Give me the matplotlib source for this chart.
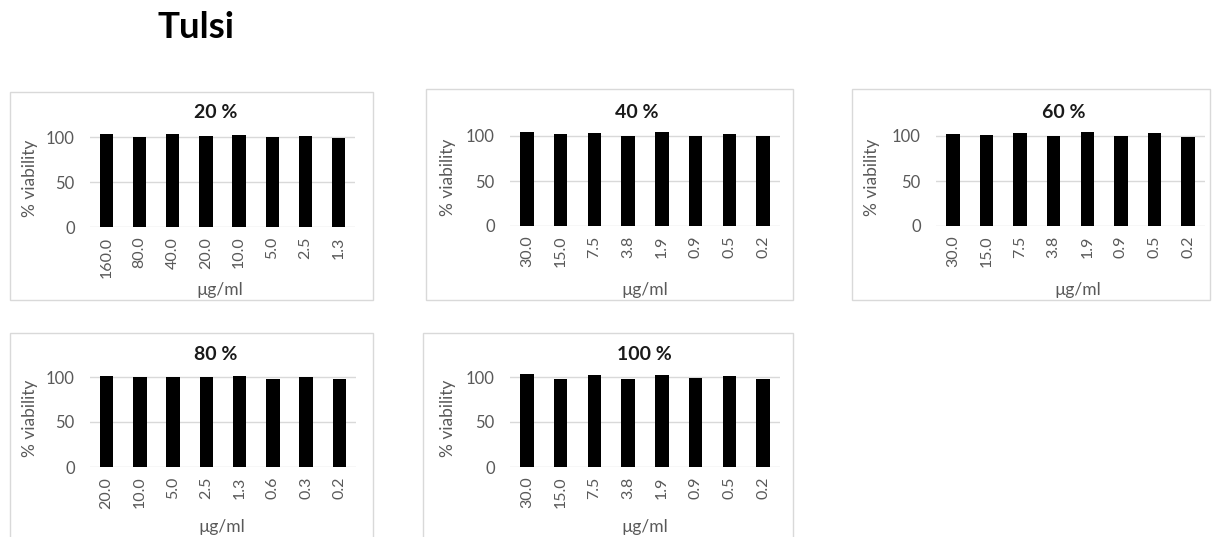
import matplotlib
matplotlib.use("Agg")
import matplotlib.pyplot as plt
from matplotlib.patches import Rectangle

plt.rcParams["font.family"] = ["Lato", "DejaVu Sans"]

W, H = 1212, 537
DPI = 100

# Concentrations (µg/ml) for each extract dilution
conc_20 = ["160.0", "80.0", "40.0", "20.0", "10.0", "5.0", "2.5", "1.3"]
conc_40 = ["30.0", "15.0", "7.5", "3.8", "1.9", "0.9", "0.5", "0.2"]
conc_60 = ["30.0", "15.0", "7.5", "3.8", "1.9", "0.9", "0.5", "0.2"]
conc_80 = ["20.0", "10.0", "5.0", "2.5", "1.3", "0.6", "0.3", "0.2"]
conc_100 = ["30.0", "15.0", "7.5", "3.8", "1.9", "0.9", "0.5", "0.2"]

# Cell viability (%)
via_20 = [103.7, 100.0, 103.7, 101.5, 102.6, 100.4, 101.5, 99.3]
via_40 = [104.4, 102.6, 103.7, 100.4, 104.4, 99.6, 102.2, 100.4]
via_60 = [102.2, 101.1, 103.0, 100.0, 104.4, 100.0, 103.0, 98.9]
via_80 = [101.5, 99.6, 100.4, 99.6, 101.1, 97.4, 99.6, 98.1]
via_100 = [103.4, 97.4, 101.9, 98.1, 101.9, 99.3, 101.1, 98.1]

titles = ["20 %", "40 %", "60 %", "80 %", "100 %"]
yticks = [0, 50, 100]

GRAY = "#595959"
GRID = "#d9d9d9"
FRAME = "#d9d9d9"

fig = plt.figure(figsize=(W / DPI, H / DPI), dpi=DPI)
fig.patch.set_facecolor("white")


def fx(x):
    return x / W


def fy(y):
    return 1 - y / H


# layout in pixels: plot x0, x1, zero line y, frame box, title x/y, ylabel x, xlabel x/y
layout = [
    dict(x0=90, x1=355, yz=227, box=(10, 92, 373, 300), tx=216, ty=113, lx=30, mx=220, my=290),
    dict(x0=510, x1=780, yz=226, box=(426, 89, 793, 300), tx=637, ty=113, lx=448, mx=645, my=290),
    dict(x0=936, x1=1205, yz=226, box=(852, 89, 1210, 300), tx=1064, ty=113, lx=872, mx=1078, my=290),
    dict(x0=90, x1=356, yz=467, box=(10, 333, 373, 545), tx=216, ty=355, lx=30, mx=222, my=527),
    dict(x0=510, x1=780, yz=467, box=(423, 333, 793, 545), tx=644, ty=355, lx=448, mx=645, my=527),
]
series = [
    (conc_20, via_20),
    (conc_40, via_40),
    (conc_60, via_60),
    (conc_80, via_80),
    (conc_100, via_100),
]

PX_PER_UNIT = 0.9
YMAX = 120

for lay, (cats, vals), title in zip(layout, series, titles):
    bx0, by0, bx1, by1 = lay["box"]
    fig.patches.append(
        Rectangle((fx(bx0), fy(by1)), fx(bx1 - bx0), (by1 - by0) / H,
                  transform=fig.transFigure, fill=False, edgecolor=FRAME,
                  linewidth=1.0, zorder=0)
    )
    top = lay["yz"] - YMAX * PX_PER_UNIT
    ax = fig.add_axes([fx(lay["x0"]), fy(lay["yz"]), fx(lay["x1"] - lay["x0"]),
                       (lay["yz"] - top) / H])
    ax.patch.set_alpha(0)
    x = range(len(cats))
    ax.bar(x, vals, width=0.4, color="black", zorder=3)
    ax.set_xlim(-0.5, len(cats) - 0.5)
    ax.set_ylim(0, YMAX)
    ax.set_yticks(yticks)
    ax.set_yticklabels([str(v) for v in yticks])
    ax.set_xticks(list(x))
    ax.set_xticklabels(cats, rotation=90)
    for s in ax.spines.values():
        s.set_visible(False)
    for v in yticks:
        ax.axhline(v, color=GRID, linewidth=1.0, zorder=1)
    ax.tick_params(axis="both", length=0, colors=GRAY)
    ax.tick_params(axis="y", pad=11, labelsize=12)
    ax.tick_params(axis="x", pad=7, labelsize=11.5)

    fig.text(fx(lay["tx"]), fy(lay["ty"]), title, ha="center", va="center",
             fontsize=14, fontweight="bold", color="#1a1a1a")
    fig.text(fx(lay["lx"]), fy(lay["yz"] - 100 * PX_PER_UNIT / 2 - 4),
             "% viability", rotation=90, ha="center", va="center",
             fontsize=12.5, color=GRAY)
    fig.text(fx(lay["mx"]), fy(lay["my"]), "µg/ml", ha="center", va="center",
             fontsize=12.5, color=GRAY)

fig.text(fx(196), fy(28), "Tulsi", ha="center", va="center",
         fontsize=26.5, fontweight="bold", color="black")

fig.savefig("out.png", dpi=DPI, facecolor="white")
